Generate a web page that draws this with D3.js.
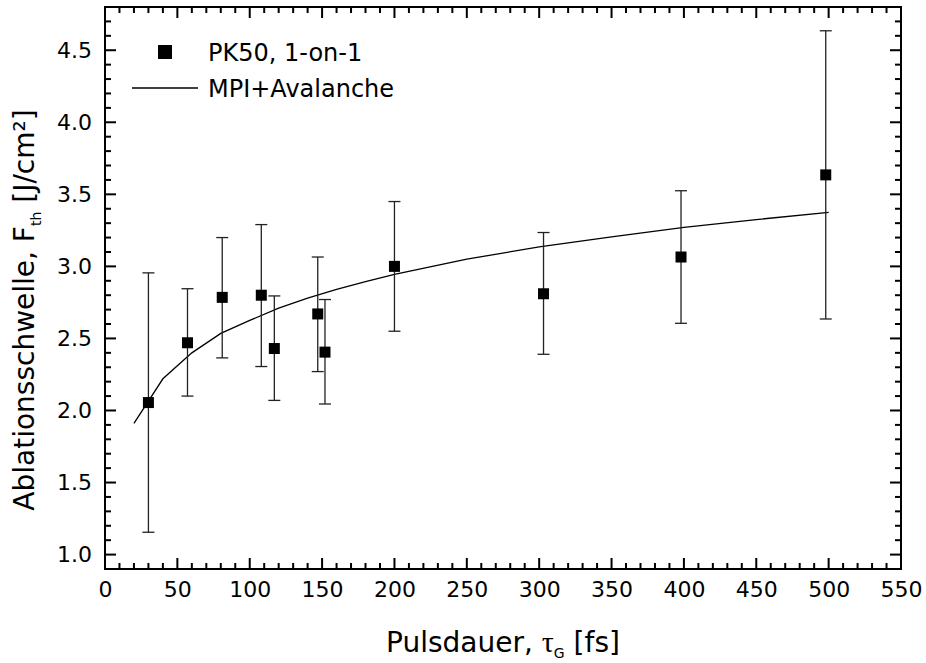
<!DOCTYPE html>
<html lang="de">
    <head>
        <meta charset="utf-8">
        <title>Ablationsschwelle</title>
        <style>
            body { margin: 0; background: white; }
            svg { display: block; font-family: "DejaVu Sans", Verdana, sans-serif; }
            .tick text { font-size: 22px; fill: black; }
        </style>
    </head>
    <body>
        <svg width="926" height="663"></svg>
        <script src="https://d3js.org/d3.v7.min.js"></script>
        <script>
            // measured points, PK50 1-on-1
            var pulseFs   = [30, 57, 81, 108, 117, 147, 152, 200, 303, 398, 498];
            var threshold = [2.055, 2.47, 2.785, 2.80, 2.43, 2.67, 2.405, 3.00, 2.81, 3.065, 3.635];
            var errLow    = [1.155, 2.10, 2.365, 2.305, 2.07, 2.27, 2.045, 2.55, 2.39, 2.605, 2.635];
            var errHigh   = [2.955, 2.845, 3.20, 3.29, 2.795, 3.065, 2.77, 3.45, 3.235, 3.525, 4.635];

            // model curve MPI+Avalanche
            var modelFs = [20, 40, 60, 80, 100, 120, 140, 160, 180, 200, 250, 300, 350, 400, 450, 500];
            var modelF  = [1.91, 2.22, 2.40, 2.535, 2.625, 2.71, 2.78, 2.84, 2.895, 2.945, 3.05, 3.135, 3.205, 3.27, 3.325, 3.375];

            var xTicks = d3.range(0, 551, 50);
            var yTicks = [1.0, 1.5, 2.0, 2.5, 3.0, 3.5, 4.0, 4.5];

            var svg = d3.select("svg"),
                pLeft = 105, pRight = 901, pTop = 7, pBottom = 569;

            var x = d3.scaleLinear().domain([0, 550]).range([pLeft, pRight]);
            var y = d3.scaleLinear().domain([0.9, 4.8]).range([pBottom, pTop]);

            // minor + major ticks, inward on all four sides
            var xMinor = d3.range(0, 551, 10), yMinor = d3.range(9, 49).map(function(d){ return d / 10; });
            function ticks(g, vals, isX, side) {
                vals.forEach(function(v) {
                    var major = isX ? (v % 50 === 0) : (Math.abs(v * 2 - Math.round(v * 2)) < 1e-6);
                    var len = major ? 11 : 6;
                    if (isX) {
                        var px = x(v), y0 = side === "bottom" ? pBottom : pTop;
                        var dir = side === "bottom" ? -1 : 1;
                        g.append("line").attr("x1", px).attr("x2", px).attr("y1", y0).attr("y2", y0 + dir * len);
                    } else {
                        var py = y(v), x0 = side === "left" ? pLeft : pRight;
                        var dir2 = side === "left" ? 1 : -1;
                        g.append("line").attr("y1", py).attr("y2", py).attr("x1", x0).attr("x2", x0 + dir2 * len);
                    }
                });
            }
            var tk = svg.append("g").attr("stroke", "black").attr("stroke-width", 2);
            ticks(tk, xMinor, true, "bottom");
            ticks(tk, xMinor, true, "top");
            ticks(tk, yMinor, false, "left");
            ticks(tk, yMinor, false, "right");

            svg.append("rect")
                .attr("x", pLeft).attr("y", pTop)
                .attr("width", pRight - pLeft).attr("height", pBottom - pTop)
                .attr("fill", "none").attr("stroke", "black").attr("stroke-width", 2);

            // tick labels via axes (no tick lines)
            svg.append("g").attr("transform", "translate(0," + pBottom + ")")
                .call(d3.axisBottom(x).tickValues(xTicks).tickSize(0).tickPadding(12).tickFormat(d3.format("d")));
            svg.append("g").attr("transform", "translate(" + pLeft + ",0)")
                .call(d3.axisLeft(y).tickValues(yTicks).tickSize(0).tickPadding(13).tickFormat(d3.format(".1f")));
            svg.selectAll(".domain").remove();
            svg.selectAll(".tick text").attr("font-family", "DejaVu Sans");

            // model line
            var line = d3.line().x(function(d){ return x(d[0]); }).y(function(d){ return y(d[1]); });
            svg.append("path")
                .datum(d3.zip(modelFs, modelF))
                .attr("d", line)
                .attr("fill", "none").attr("stroke", "black").attr("stroke-width", 1.3);

            // error bars
            var pts = pulseFs.map(function(d, i){ return {x: d, y: threshold[i], lo: errLow[i], hi: errHigh[i]}; });
            var eb = svg.append("g").attr("stroke", "#222").attr("stroke-width", 1.3);
            pts.forEach(function(p) {
                eb.append("line").attr("x1", x(p.x)).attr("x2", x(p.x)).attr("y1", y(p.lo)).attr("y2", y(p.hi));
                eb.append("line").attr("x1", x(p.x) - 6).attr("x2", x(p.x) + 6).attr("y1", y(p.lo)).attr("y2", y(p.lo));
                eb.append("line").attr("x1", x(p.x) - 6).attr("x2", x(p.x) + 6).attr("y1", y(p.hi)).attr("y2", y(p.hi));
            });

            svg.append("g").selectAll("rect").data(pts).enter()
                .append("rect")
                .attr("x", function(d){ return x(d.x) - 5.5; })
                .attr("y", function(d){ return y(d.y) - 5.5; })
                .attr("width", 11).attr("height", 11)
                .attr("fill", "black");

            // legend
            var lg = svg.append("g");
            lg.append("rect").attr("x", 158).attr("y", 45).attr("width", 14).attr("height", 14).attr("fill", "black");
            lg.append("text").attr("x", 208).attr("y", 52).attr("dy", "0.36em")
                .attr("font-size", 24).text("PK50, 1-on-1");
            lg.append("line").attr("x1", 132).attr("x2", 198).attr("y1", 88).attr("y2", 88)
                .attr("stroke", "black").attr("stroke-width", 1.3);
            lg.append("text").attr("x", 208).attr("y", 88).attr("dy", "0.36em")
                .attr("font-size", 24).text("MPI+Avalanche");

            // axis titles
            var xt = svg.append("text")
                .attr("x", (pLeft + pRight) / 2).attr("y", 652)
                .attr("text-anchor", "middle").attr("font-size", 28);
            xt.append("tspan").text("Pulsdauer, ");
            xt.append("tspan").attr("font-family", "Liberation Serif").attr("font-size", 30).text("τ");
            xt.append("tspan").attr("font-size", 14).attr("dy", 6).text("G");
            xt.append("tspan").attr("dy", -6).text(" [fs]");

            var yt = svg.append("text")
                .attr("transform", "translate(34,310) rotate(-90)")
                .attr("text-anchor", "middle").attr("font-size", 28);
            yt.append("tspan").text("Ablationsschwelle, F");
            yt.append("tspan").attr("font-size", 14).attr("dy", 7).text("th");
            yt.append("tspan").attr("dy", -7).text(" [J/cm²]");
        </script>
    </body>
</html>
